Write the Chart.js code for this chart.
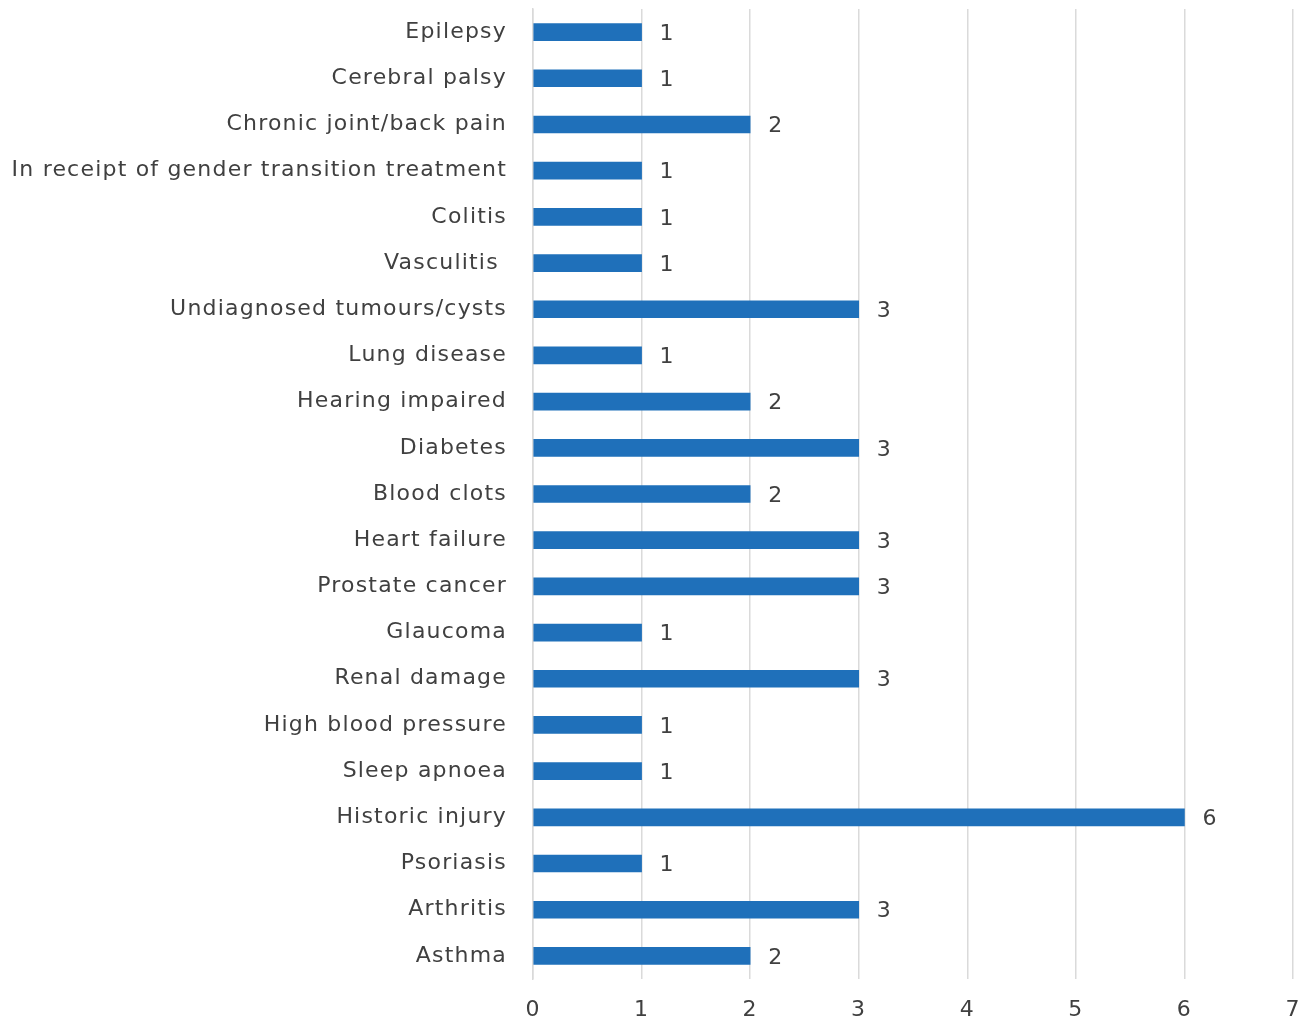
<!DOCTYPE html>
<html>
<head>
<meta charset="utf-8">
<script src="https://cdn.jsdelivr.net/npm/chart.js@4.4.1/dist/chart.umd.min.js"></script>
<style>
  html, body { margin: 0; padding: 0; background: #ffffff; }
  #wrap { position: relative; width: 1313px; height: 1025px; }
</style>
</head>
<body>
<div id="wrap"><canvas id="c" width="1313" height="1025"></canvas></div>
<script>
const categories = [
  "Epilepsy", "Cerebral palsy", "Chronic joint/back pain",
  "In receipt of gender transition treatment", "Colitis", "Vasculitis ",
  "Undiagnosed tumours/cysts", "Lung disease", "Hearing impaired",
  "Diabetes", "Blood clots", "Heart failure", "Prostate cancer",
  "Glaucoma", "Renal damage", "High blood pressure", "Sleep apnoea",
  "Historic injury", "Psoriasis", "Arthritis", "Asthma"
];
const counts = [1, 1, 2, 1, 1, 1, 3, 1, 2, 3, 2, 3, 3, 1, 3, 1, 1, 6, 1, 3, 2];
const xTicks = [0, 1, 2, 3, 4, 5, 6, 7];

const FONT = "'DejaVu Sans', sans-serif";
const TEXT = '#404040';

const spacing = {
  id: 'spacing',
  beforeDraw(chart) { chart.ctx.letterSpacing = '1.2px'; }
};

const valueLabels = {
  id: 'valueLabels',
  afterDatasetsDraw(chart) {
    const ctx = chart.ctx;
    const meta = chart.getDatasetMeta(0);
    ctx.save();
    ctx.font = '22px ' + FONT;
    ctx.fillStyle = TEXT;
    ctx.textAlign = 'left';
    ctx.textBaseline = 'middle';
    meta.data.forEach((bar, i) => {
      ctx.fillText(String(chart.data.datasets[0].data[i]), bar.x + 18, bar.y + 2);
    });
    ctx.restore();
  }
};

new Chart(document.getElementById('c'), {
  type: 'bar',
  data: {
    labels: categories,
    datasets: [{
      data: counts,
      backgroundColor: '#1f70ba',
      borderWidth: 0,
      barThickness: 17
    }]
  },
  options: {
    indexAxis: 'y',
    responsive: false,
    animation: false,
    layout: { padding: { top: 9, right: 20, bottom: 0, left: 0 } },
    plugins: { legend: { display: false }, tooltip: { enabled: false } },
    scales: {
      x: {
        min: 0, max: 7,
        afterBuildTicks(axis) { axis.ticks = xTicks.map(v => ({ value: v })); },
        grid: { color: '#dadada', lineWidth: 1.5, drawTicks: false },
        border: { display: false },
        ticks: { color: TEXT, font: { family: FONT, size: 22 }, padding: 18 },
        afterFit(axis) { axis.height = 46; axis.paddingRight = 0; axis.paddingLeft = 0; }
      },
      y: {
        grid: { display: false },
        border: { color: '#d9d9d9', width: 1.5 },
        ticks: { color: TEXT, font: { family: FONT, size: 22 }, padding: 18, autoSkip: false },
        afterFit(axis) { axis.width = 533; axis.paddingTop = 0; axis.paddingBottom = 0; }
      }
    }
  },
  plugins: [spacing, valueLabels]
});
</script>
</body>
</html>
